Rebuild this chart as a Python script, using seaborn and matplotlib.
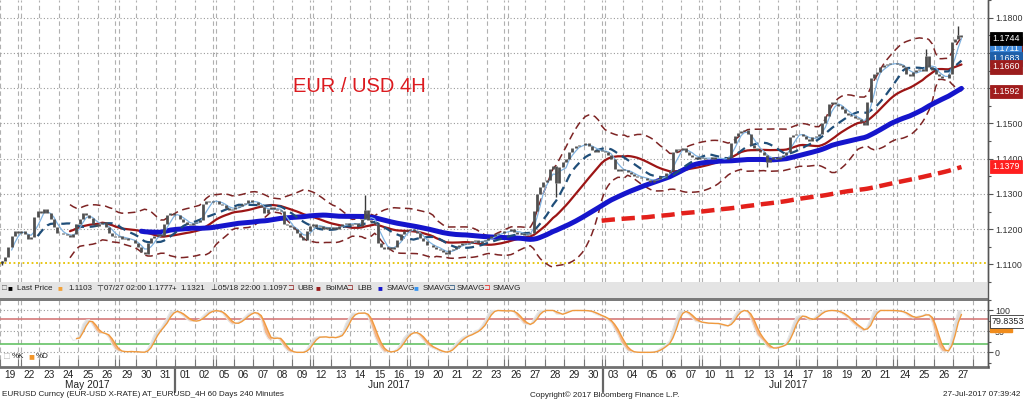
import numpy as np
import pandas as pd
import matplotlib
matplotlib.use("Agg")
import matplotlib.pyplot as plt
import matplotlib.transforms as mtransforms
import seaborn as sns

# trading days shown on the axis
day_labels = ["19", "22", "23", "24", "25", "26", "29", "30", "31",
              "01", "02", "05", "06", "07", "08", "09", "12", "13", "14", "15", "16",
              "19", "20", "21", "22", "23", "26", "27", "28", "29", "30",
              "03", "04", "05", "06", "07", "10", "11", "12", "13", "14",
              "17", "18", "19", "20", "21", "24", "25", "26", "27"]
week_breaks = [0, 5, 10, 15, 20, 25, 30, 35, 40, 45]   # last day index of each week
month_breaks = [8, 30]
month_names = ["May 2017", "Jun 2017", "Jul 2017"]
month_centers = [4, 19.5, 40]

# 4H closes, six bars per day
closes = [
    [1.1110, 1.1122, 1.1150, 1.1180, 1.1195, 1.1190],
    [1.1195, 1.1185, 1.1172, 1.1178, 1.1235, 1.1250],
    [1.1245, 1.1258, 1.1245, 1.1230, 1.1205, 1.1190],
    [1.1190, 1.1185, 1.1182, 1.1178, 1.1185, 1.1215],
    [1.1230, 1.1245, 1.1240, 1.1232, 1.1215, 1.1210],
    [1.1215, 1.1220, 1.1205, 1.1190, 1.1180, 1.1178],
    [1.1180, 1.1172, 1.1175, 1.1168, 1.1170, 1.1160],
    [1.1150, 1.1135, 1.1130, 1.1160, 1.1175, 1.1180],
    [1.1185, 1.1180, 1.1215, 1.1240, 1.1245, 1.1240],
    [1.1240, 1.1228, 1.1220, 1.1215, 1.1212, 1.1218],
    [1.1220, 1.1225, 1.1270, 1.1280, 1.1278, 1.1280],
    [1.1280, 1.1272, 1.1268, 1.1260, 1.1255, 1.1258],
    [1.1262, 1.1265, 1.1270, 1.1275, 1.1282, 1.1278],
    [1.1278, 1.1268, 1.1262, 1.1245, 1.1258, 1.1262],
    [1.1258, 1.1255, 1.1250, 1.1215, 1.1212, 1.1205],
    [1.1200, 1.1188, 1.1178, 1.1170, 1.1195, 1.1210],
    [1.1215, 1.1205, 1.1210, 1.1200, 1.1205, 1.1200],
    [1.1205, 1.1200, 1.1210, 1.1215, 1.1218, 1.1212],
    [1.1215, 1.1218, 1.1210, 1.1230, 1.1255, 1.1225],
    [1.1220, 1.1215, 1.1160, 1.1150, 1.1145, 1.1150],
    [1.1145, 1.1150, 1.1170, 1.1185, 1.1195, 1.1198],
    [1.1200, 1.1195, 1.1190, 1.1175, 1.1165, 1.1155],
    [1.1155, 1.1150, 1.1145, 1.1140, 1.1135, 1.1130],
    [1.1140, 1.1145, 1.1150, 1.1155, 1.1160, 1.1158],
    [1.1160, 1.1165, 1.1170, 1.1160, 1.1165, 1.1170],
    [1.1175, 1.1180, 1.1185, 1.1190, 1.1188, 1.1195],
    [1.1195, 1.1200, 1.1192, 1.1185, 1.1190, 1.1182],
    [1.1185, 1.1190, 1.1250, 1.1300, 1.1320, 1.1335],
    [1.1340, 1.1370, 1.1380, 1.1330, 1.1375, 1.1390],
    [1.1400, 1.1420, 1.1430, 1.1435, 1.1440, 1.1438],
    [1.1445, 1.1435, 1.1425, 1.1420, 1.1425, 1.1422],
    [1.1420, 1.1410, 1.1400, 1.1370, 1.1365, 1.1370],
    [1.1368, 1.1362, 1.1355, 1.1350, 1.1348, 1.1345],
    [1.1345, 1.1340, 1.1335, 1.1338, 1.1342, 1.1350],
    [1.1350, 1.1358, 1.1365, 1.1420, 1.1428, 1.1425],
    [1.1430, 1.1420, 1.1410, 1.1405, 1.1400, 1.1405],
    [1.1402, 1.1398, 1.1400, 1.1405, 1.1398, 1.1400],
    [1.1400, 1.1398, 1.1405, 1.1445, 1.1465, 1.1472],
    [1.1478, 1.1480, 1.1470, 1.1440, 1.1430, 1.1425],
    [1.1420, 1.1410, 1.1390, 1.1400, 1.1405, 1.1400],
    [1.1405, 1.1410, 1.1420, 1.1460, 1.1468, 1.1470],
    [1.1470, 1.1465, 1.1455, 1.1450, 1.1460, 1.1465],
    [1.1470, 1.1500, 1.1520, 1.1555, 1.1560, 1.1555],
    [1.1550, 1.1540, 1.1530, 1.1525, 1.1520, 1.1515],
    [1.1512, 1.1505, 1.1495, 1.1560, 1.1630, 1.1640],
    [1.1645, 1.1660, 1.1665, 1.1668, 1.1672, 1.1670],
    [1.1668, 1.1665, 1.1660, 1.1640, 1.1635, 1.1645],
    [1.1650, 1.1655, 1.1648, 1.1690, 1.1660, 1.1650],
    [1.1640, 1.1635, 1.1630, 1.1628, 1.1640, 1.1730],
    [1.1740, 1.1750, 1.1744],
]
first_open = 1.1103

# a few visible wicks: (day, bar in day, price)
wick_day = [0, 18, 28, 39, 47, 49]
wick_bar = [0, 4, 3, 2, 3, 1]
wick_price = [1.1097, 1.1296, 1.1291, 1.1375, 1.1712, 1.1777]

# right-hand value tags
tag_values = [1.1700, 1.1725, 1.1711, 1.1683, 1.1741, 1.1660, 1.1590, 1.1377]
tag_text = ["1.1700", "1.1725", "1.1711", "1.1683", "1.1744", "1.1660", "1.1592", "1.1379"]
tag_face = ["white", "#8e1b1b", "#3a86d8", "#1f5fa8", "black", "#9b1d1d", "#a01c1c", "#ff1f1f"]
tag_fg = ["#333333", "white", "white", "white", "white", "white", "white", "white"]

rows = []
for d, day in enumerate(closes):
    for k, c in enumerate(day):
        rows.append((d + (k - 2.5) / 6.0, c))
df = pd.DataFrame(rows, columns=["x", "close"])
df["open"] = df["close"].shift(1).fillna(first_open)

df["sma_fast"] = df["close"].rolling(4).mean()
df["sma_mid"] = df["close"].rolling(12).mean()
df["bol_ma"] = df["close"].rolling(22).mean()
sd = df["close"].rolling(22).std(ddof=0)
df["ubb"] = df["bol_ma"] + 2 * sd
df["lbb"] = df["bol_ma"] - 2 * sd
df["sma_50"] = df["close"].rolling(50, min_periods=44).mean()
df["sma_200"] = df["close"].rolling(200, min_periods=186).mean()

lo = df["close"].rolling(20).min()
hi = df["close"].rolling(20).max()
df["pct_k"] = (100 * (df["close"] - lo) / (hi - lo)).rolling(3).mean()
df["pct_d"] = df["pct_k"].rolling(3).mean()

sns.set_theme(style="white")
plt.rcParams["font.family"] = ["Liberation Sans", "DejaVu Sans"]

W, H = 1024, 401
fig = plt.figure(figsize=(W / 100, H / 100), dpi=100)
ax = fig.add_axes([0, (H - 282) / H, 988 / W, 282 / H])
ax2 = fig.add_axes([0, (H - 367) / H, 988 / W, 67 / H], sharex=ax)

xmin, xmax = -0.514, 50.28
ax.set_xlim(xmin, xmax)
ax.set_ylim(1.10524, 1.18423)
ax2.set_ylim(-35, 118)

# grid
bounds = []
for b in range(-1, 50):
    if b in week_breaks:
        bounds += [b + 0.42, b + 0.58]
    else:
        bounds.append(b + 0.5)
for a in (ax, ax2):
    for b in bounds:
        a.axvline(b, color="#b0b0b0", lw=0.8, ls=(0, (4, 3)), zorder=0)
for p in np.arange(1.12, 1.185, 0.01):
    ax.axhline(p, color="#9a9a9a", lw=0.8, ls=(0, (1, 2)), zorder=0)
ax.axhline(first_open, color="#e6c200", lw=1.3, ls=(0, (1, 1.5)), zorder=1)
for v in (100, 50, 0):
    ax2.axhline(v, color="#9a9a9a", lw=0.8, ls=(0, (1, 2)), zorder=0)
ax2.axhline(80, color="#d47a7a", lw=1.2, zorder=1)
ax2.axhline(20, color="#66c266", lw=1.2, zorder=1)

# studies
sns.lineplot(data=df, x="x", y="ubb", ax=ax, color="#7d2424", lw=1.1, ls=(0, (5, 3)), estimator=None, zorder=4)
sns.lineplot(data=df, x="x", y="lbb", ax=ax, color="#7d2424", lw=1.1, ls=(0, (5, 3)), estimator=None, zorder=4)
sns.lineplot(data=df, x="x", y="sma_200", ax=ax, color="#e3201b", lw=3.2, ls=(0, (3, 1.5)), estimator=None, zorder=4)
sns.lineplot(data=df, x="x", y="bol_ma", ax=ax, color="#9c1515", lw=1.6, estimator=None, zorder=5)
sns.lineplot(data=df, x="x", y="sma_50", ax=ax, color="#1515cc", lw=3.6, estimator=None, zorder=5)
sns.lineplot(data=df, x="x", y="sma_mid", ax=ax, color="#1f4e79", lw=1.6, ls=(0, (4, 2.5)), estimator=None, zorder=6)
sns.lineplot(data=df, x="x", y="sma_fast", ax=ax, color="#7fb2e0", lw=0.9, estimator=None, zorder=6)

# price bars on top
ax.vlines(df["x"], df[["open", "close"]].min(axis=1), df[["open", "close"]].max(axis=1),
          color="#505050", lw=2.0, zorder=7)
for d, k, p in zip(wick_day, wick_bar, wick_price):
    xb = d + (k - 2.5) / 6.0
    c = closes[d][k]
    ax.vlines(xb, min(c, p), max(c, p), color="#3a3a3a", lw=1.0, zorder=7)

# stochastic
k_ = df["pct_k"].to_numpy()
d_ = df["pct_d"].to_numpy()
ok = ~np.isnan(d_)
ax2.fill_between(df["x"][ok], k_[ok], d_[ok], where=d_[ok] >= k_[ok], color="#f6b07c", alpha=0.9,
                 interpolate=True, lw=0, zorder=2)
ax2.fill_between(df["x"][ok], k_[ok], d_[ok], where=k_[ok] > d_[ok], color="#d8d8d8", alpha=0.9,
                 interpolate=True, lw=0, zorder=2)
sns.lineplot(data=df, x="x", y="pct_k", ax=ax2, color="#e8e8e8", lw=0.8, estimator=None, zorder=3)
sns.lineplot(data=df, x="x", y="pct_d", ax=ax2, color="#f09a3e", lw=1.0, estimator=None, zorder=3)

# axes cosmetics
for a in (ax, ax2):
    a.set_xlabel("")
    a.set_ylabel("")
    for s in ("top", "left", "bottom"):
        a.spines[s].set_visible(False)
    a.spines["right"].set_color("#555555")
    a.spines["right"].set_linewidth(1.0)
    a.yaxis.tick_right()
ax2.spines["bottom"].set_visible(True)
ax2.spines["bottom"].set_color("#707070")
ax2.spines["bottom"].set_linewidth(2.0)

ax.set_yticks(np.arange(1.11, 1.185, 0.01))
ax.set_yticklabels([f"{v:.4f}" for v in np.arange(1.11, 1.185, 0.01)])
ax.set_yticks(np.arange(1.105, 1.185, 0.005), minor=True)
ax.tick_params(axis="y", which="major", right=True, length=3.5, width=0.8, color="#555555",
               labelsize=6.4, labelcolor="#333333", pad=1.5)
ax.tick_params(axis="y", which="minor", right=True, length=2.2, width=0.8, color="#555555")
ax.tick_params(axis="x", which="both", bottom=False, labelbottom=False)

ax2.set_yticks([100, 50, 0])
ax2.set_yticks([125, 75, 25, -25], minor=True)
ax2.tick_params(axis="y", which="major", right=True, length=3.5, width=0.8, color="#555555",
                labelsize=6.4, labelcolor="#333333", pad=1.5)
ax2.tick_params(axis="y", which="minor", right=True, length=2.2, width=0.8, color="#555555")
ax2.set_xticks(range(50))
ax2.set_xticklabels(day_labels)
ax2.set_xticks(bounds, minor=True)
ax2.tick_params(axis="x", which="major", bottom=True, length=0, labelsize=7.3, labelcolor="#222222", pad=2)
ax2.tick_params(axis="x", which="minor", bottom=True, direction="in", length=6, width=0.8, color="#777777")
ax2.set_xlim(xmin, xmax)

xt = ax2.get_xaxis_transform()
for m in month_breaks:
    ax2.plot([m + 0.5, m + 0.5], [0, -0.38], transform=xt, color="#666666", lw=1.6, clip_on=False)
for name, c in zip(month_names, month_centers):
    ax2.text(c, -0.27, name, transform=xt, ha="center", va="center", fontsize=7.3, color="#222222")

# value tags at the right edge
bt = mtransforms.blended_transform_factory(ax.transAxes, ax.transData)
for v, t, fc, tc in zip(tag_values, tag_text, tag_face, tag_fg):
    ax.text(1.004, v, t, transform=bt, ha="left", va="center", fontsize=6.4, color=tc, clip_on=False,
            bbox=dict(boxstyle="square,pad=0.25", fc=fc, ec="#333333" if fc == "white" else fc, lw=0.6), zorder=10)
bt2 = mtransforms.blended_transform_factory(ax2.transAxes, ax2.transData)
ax2.text(1.004, 60, "        ", transform=bt2, ha="left", va="center", fontsize=5.8, clip_on=False,
         bbox=dict(boxstyle="square,pad=0.2", fc="#f08c1c", ec="#f08c1c"))
ax2.text(1.004, 73, "79.8353", transform=bt2, ha="left", va="center", fontsize=6.4, color="#222222",
         clip_on=False, bbox=dict(boxstyle="square,pad=0.2", fc="white", ec="#333333", lw=0.6))

# title
fig.text(293 / W, 1 - 86 / H, "EUR / USD 4H", color="#dc1a1f", fontsize=14.5, va="center", ha="left")

# legend strip between the panels
fig.patches.append(plt.Rectangle((0, (H - 298) / H), 988 / W, 16 / H, transform=fig.transFigure,
                                 fc="#e4e4e4", ec="none"))
fig.patches.append(plt.Rectangle((0, (H - 300.5) / H), 988 / W, 3 / H, transform=fig.transFigure,
                                 fc="#7a7a7a", ec="none"))
fig.add_artist(plt.Line2D([988 / W, 988 / W], [(H - 367) / H, 1], transform=fig.transFigure,
                          color="#555555", lw=1.0))
ly = 1 - 289 / H
legend_items = [
    (2, "□", "#555555"), (8, "■", "black"), (17, "Last Price", "#222222"),
    (58, "■", "#f2a23a"), (68, "1.1103", "#222222"),
    (96, "⊤", "#222222"), (104, "07/27 02:00 1.1777", "#222222"),
    (172, "+", "#222222"), (180, "1.1321", "#222222"),
    (210, "⊥", "#222222"), (218, "05/18 22:00 1.1097", "#222222"),
    (287, "⊐", "#8e1b1b"), (297, "UBB", "#222222"),
    (315, "■", "#9b1d1d"), (325, "BolMA", "#222222"),
    (346, "⊐", "#8e1b1b"), (357, "LBB", "#222222"),
    (377, "■", "#1515cc"), (387, "SMAVG", "#222222"),
    (414, "■", "#3a96f0"), (423, "SMAVG", "#222222"),
    (448, "⊐", "#1f4e79"), (457, "SMAVG", "#222222"),
    (483, "⊐", "#e3201b"), (493, "SMAVG", "#222222"),
]
for px, s, c in legend_items:
    fig.text(px / W, ly, s, color=c, fontsize=5.8, va="center", ha="left")

# stochastic legend
sy = 1 - 356 / H
fig.text(4 / W, sy, "□", color="#bbbbbb", fontsize=7, va="center")
fig.text(12 / W, sy, "%K", color="#222222", fontsize=5.8, va="center")
fig.text(28 / W, sy, "■", color="#f2962a", fontsize=7, va="center")
fig.text(36 / W, sy, "%D", color="#222222", fontsize=5.8, va="center")

# footer
fy = 1 - 395 / H
fig.text(2 / W, fy, "EURUSD Curncy (EUR-USD X-RATE) AT_EURUSD_4H 60 Days 240 Minutes",
         fontsize=5.9, color="#222222", va="center")
fig.text(530 / W, fy, "Copyright© 2017 Bloomberg Finance L.P.", fontsize=5.9, color="#222222", va="center")
fig.text(1020 / W, fy, "27-Jul-2017 07:39:42", fontsize=5.9, color="#222222", va="center", ha="right")

fig.savefig("out.png", dpi=100)
